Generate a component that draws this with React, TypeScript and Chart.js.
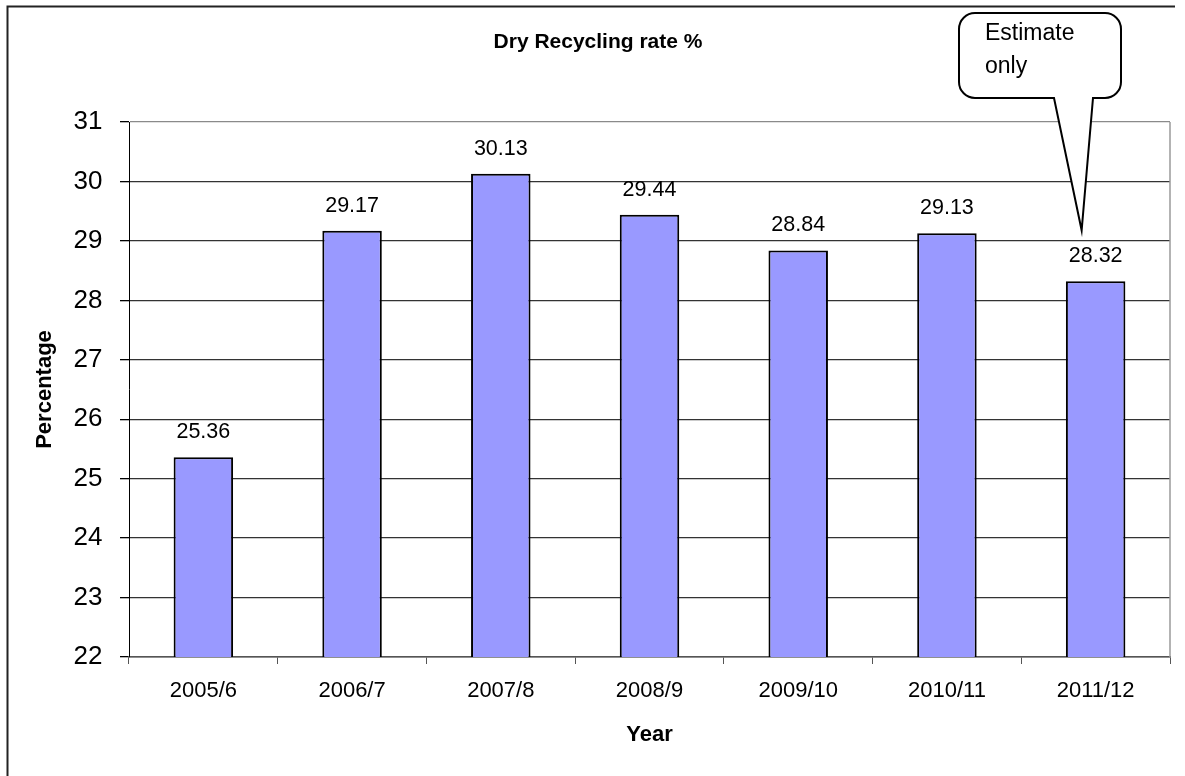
import React, { useEffect, useRef } from 'react';
import { Chart, registerables } from 'chart.js';

Chart.register(...registerables);

const categories = ['2005/6', '2006/7', '2007/8', '2008/9', '2009/10', '2010/11', '2011/12'];
const values = [25.36, 29.17, 30.13, 29.44, 28.84, 29.13, 28.32];
const valueLabels = ['25.36', '29.17', '30.13', '29.44', '28.84', '29.13', '28.32'];
const yMin = 22;
const yMax = 31;
const yStep = 1;
const titleText = 'Dry Recycling rate %';
const xTitle = 'Year';
const yTitle = 'Percentage';
const calloutLines = ['Estimate', 'only'];
const calloutIndex = 6;

const FONT = '"Liberation Sans", Arial, Helvetica, sans-serif';

const decorPlugin = {
  id: 'decor',
  beforeDraw(chart: any) {
    const ctx = chart.ctx;
    ctx.save();
    ctx.fillStyle = '#ffffff';
    ctx.fillRect(0, 0, chart.width, chart.height);
    ctx.restore();
  },
  afterDatasetsDraw(chart: any) {
    const ctx = chart.ctx;
    const area = chart.chartArea;
    ctx.save();
    // right border of plot area
    ctx.strokeStyle = '#9a9a9a';
    ctx.lineWidth = 1.5;
    ctx.beginPath();
    ctx.moveTo(area.right, area.top);
    ctx.lineTo(area.right, area.bottom);
    ctx.stroke();
    // data labels
    const meta = chart.getDatasetMeta(0);
    ctx.font = `21.5px ${FONT}`;
    ctx.fillStyle = '#000';
    ctx.textAlign = 'center';
    ctx.textBaseline = 'alphabetic';
    meta.data.forEach((el: any, i: number) => {
      ctx.fillText(valueLabels[i], el.x, el.y - 19);
    });
    ctx.restore();
  },
  afterDraw(chart: any) {
    const ctx = chart.ctx;
    ctx.save();
    // outer frame (left and top)
    ctx.strokeStyle = '#222';
    ctx.lineWidth = 2;
    ctx.beginPath();
    ctx.moveTo(7.5, chart.height);
    ctx.lineTo(7.5, 6.5);
    ctx.lineTo(1175, 6.5);
    ctx.stroke();

    // title
    ctx.fillStyle = '#000';
    ctx.font = `bold 21px ${FONT}`;
    ctx.textAlign = 'center';
    ctx.textBaseline = 'middle';
    ctx.fillText(titleText, 598, 42);

    // callout
    const meta = chart.getDatasetMeta(0);
    const bar = meta.data[calloutIndex];
    const tipX = bar.x - 14;
    const tipY = bar.y - 51;
    const x0 = 959, x1 = 1121, y0 = 13, y1 = 98, r = 16;
    const tl = 1054, tr = 1093;
    ctx.beginPath();
    ctx.moveTo(x0 + r, y0);
    ctx.lineTo(x1 - r, y0);
    ctx.arcTo(x1, y0, x1, y0 + r, r);
    ctx.lineTo(x1, y1 - r);
    ctx.arcTo(x1, y1, x1 - r, y1, r);
    ctx.lineTo(tr, y1);
    ctx.lineTo(tipX, tipY);
    ctx.lineTo(tl, y1);
    ctx.lineTo(x0 + r, y1);
    ctx.arcTo(x0, y1, x0, y1 - r, r);
    ctx.lineTo(x0, y0 + r);
    ctx.arcTo(x0, y0, x0 + r, y0, r);
    ctx.closePath();
    ctx.fillStyle = '#fff';
    ctx.fill();
    ctx.strokeStyle = '#000';
    ctx.lineWidth = 2;
    ctx.lineJoin = 'miter';
    ctx.stroke();

    ctx.fillStyle = '#000';
    ctx.font = `23px ${FONT}`;
    ctx.textAlign = 'left';
    ctx.textBaseline = 'alphabetic';
    ctx.fillText(calloutLines[0], 985, 40);
    ctx.fillText(calloutLines[1], 985, 73);
    ctx.restore();
  },
};

export default function App() {
  const canvasRef = useRef<HTMLCanvasElement | null>(null);

  useEffect(() => {
    if (!canvasRef.current) return;
    const chart = new Chart(canvasRef.current, {
      type: 'bar',
      data: {
        labels: categories,
        datasets: [
          {
            label: 'Dry Recycling rate %',
            data: values,
            backgroundColor: '#9999FF',
            borderColor: '#000000',
            borderWidth: 2,
            borderSkipped: false,
            barPercentage: 0.4,
            categoryPercentage: 1.0,
          },
        ],
      },
      options: {
        responsive: false,
        maintainAspectRatio: false,
        animation: false,
        devicePixelRatio: 1,
        layout: { padding: { top: 122, right: 15, bottom: 19, left: 0 } },
        plugins: {
          legend: { display: false },
          title: { display: false },
          tooltip: { enabled: false },
        },
        scales: {
          x: {
            offset: true,
            grid: {
              display: true,
              drawOnChartArea: false,
              drawTicks: true,
              tickLength: 7,
              offset: true,
              color: '#555',
              lineWidth: 1,
            },
            border: { display: true, color: '#555', width: 1.5 },
            ticks: {
              color: '#000',
              font: { family: FONT, size: 22 },
              padding: 13.5,
              maxRotation: 0,
              autoSkip: false,
            },
            title: {
              display: true,
              text: xTitle,
              color: '#000',
              font: { family: FONT, size: 22, weight: 'bold' },
              padding: { top: 0, bottom: 8.8 },
            },
            afterFit(scale: any) {
              scale.height = 100;
            },
          },
          y: {
            min: yMin,
            max: yMax,
            ticks: {
              stepSize: yStep,
              color: '#000',
              font: { family: FONT, size: 26 },
              padding: 17.5,
            },
            grid: {
              color: (c: any) => (c.tick && c.tick.value === yMax ? '#8a8a8a' : '#333'),
              lineWidth: 1.3,
              tickColor: '#000',
              tickLength: 9,
              drawTicks: true,
            },
            border: { display: true, color: '#000', width: 1 },
            title: {
              display: true,
              text: yTitle,
              color: '#000',
              font: { family: FONT, size: 22, weight: 'bold' },
              padding: { top: 31.8, bottom: 0 },
            },
            afterFit(scale: any) {
              scale.width = 129;
            },
          },
        },
      },
      plugins: [decorPlugin],
    } as any);
    return () => chart.destroy();
  }, []);

  return (
    <div style={{ position: 'absolute', left: 0, top: 0, width: 1185, height: 776 }}>
      <canvas ref={canvasRef} width={1185} height={776} style={{ width: 1185, height: 776, display: 'block' }} />
    </div>
  );
}
